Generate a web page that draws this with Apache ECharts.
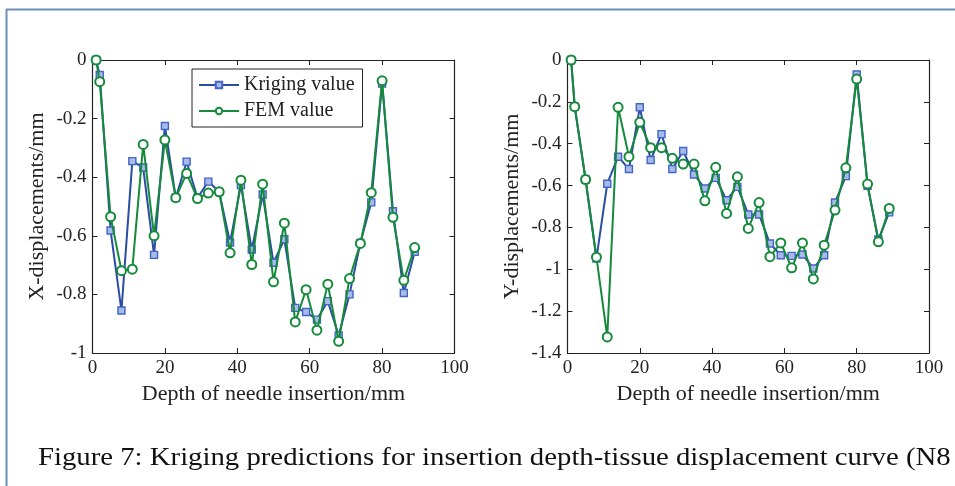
<!DOCTYPE html>
<html><head><meta charset="utf-8">
<script src="https://cdn.jsdelivr.net/npm/echarts@6/dist/echarts.min.js"></script>
<style>html,body{margin:0;padding:0;background:#fff}#c{width:955px;height:486px}</style>
</head><body><div id="c"></div>
<script>
const depth = [1,2,5,8,11,14,17,20,23,26,29,32,35,38,41,44,47,50,53,56,59,62,65,68,71,74,77,80,83,86,89];
const xKriging = [0,-0.051,-0.582,-0.855,-0.345,-0.367,-0.665,-0.225,-0.47,-0.347,-0.47,-0.415,-0.45,-0.623,-0.427,-0.647,-0.459,-0.692,-0.612,-0.846,-0.86,-0.886,-0.823,-0.94,-0.80,-0.624,-0.486,-0.08,-0.516,-0.795,-0.655];
const xFEM = [0,-0.074,-0.535,-0.719,-0.714,-0.288,-0.600,-0.273,-0.47,-0.387,-0.473,-0.454,-0.45,-0.658,-0.41,-0.698,-0.424,-0.757,-0.557,-0.894,-0.784,-0.922,-0.765,-0.96,-0.746,-0.626,-0.453,-0.071,-0.537,-0.752,-0.64];
const yKriging = [0,-0.223,-0.571,-0.949,-0.591,-0.462,-0.521,-0.226,-0.478,-0.354,-0.521,-0.435,-0.547,-0.614,-0.563,-0.67,-0.606,-0.738,-0.738,-0.877,-0.933,-0.936,-0.929,-0.996,-0.933,-0.681,-0.555,-0.069,-0.601,-0.858,-0.728];
const yFEM = [0,-0.223,-0.571,-0.942,-1.323,-0.226,-0.462,-0.298,-0.419,-0.419,-0.47,-0.497,-0.497,-0.673,-0.513,-0.733,-0.558,-0.805,-0.681,-0.94,-0.874,-0.993,-0.874,-1.046,-0.885,-0.717,-0.515,-0.091,-0.593,-0.869,-0.709];
const seriesNames = ['Kriging value','FEM value'];
const xAxisTitle = 'Depth of needle insertion/mm';
const yTitles = ['X-displacements/mm','Y-displacements/mm'];
const caption = 'Figure 7: Kriging predictions for insertion depth-tissue displacement curve (N8';

const FONT = 'Liberation Serif';
const INK = '#222';
const BLUE = '#2a4ca3', BLUE_M = '#4164c6', GREEN = '#158a3b';

function pair(a,b){return a.map((v,i)=>[v,b[i]]);}

const grids = [
  {left:92.5, top:60, width:362, height:293},
  {left:567.5, top:60, width:361.5, height:293}
];
const yRanges = [{min:-1,max:0},{min:-1.4,max:0}];

const xAxes = [], yAxes = [], series = [];
grids.forEach((g,gi)=>{
  const base = {type:'value', gridIndex:gi, min:0, max:100, interval:20,
    axisLine:{show:true,onZero:false,lineStyle:{color:INK,width:1.2}},
    axisTick:{show:true,inside:true,length:5,lineStyle:{color:INK}},
    splitLine:{show:false}};
  xAxes.push(Object.assign({}, base, {position:'bottom',
    name:xAxisTitle, nameLocation:'middle', nameGap:30,
    nameTextStyle:{fontFamily:FONT,fontSize:22,color:INK},
    axisLabel:{fontFamily:FONT,fontSize:19,color:INK,margin:6}}));
  xAxes.push(Object.assign({}, base, {position:'top', axisLabel:{show:false}}));
  const ybase = {type:'value', gridIndex:gi, min:yRanges[gi].min, max:yRanges[gi].max, interval:0.2,
    axisLine:{show:true,onZero:false,lineStyle:{color:INK,width:1.2}},
    axisTick:{show:true,inside:true,length:5,lineStyle:{color:INK}},
    splitLine:{show:false}};
  yAxes.push(Object.assign({}, ybase, {position:'left',
    name:yTitles[gi], nameLocation:'middle', nameGap: gi===0?44:44, nameRotate:90,
    nameTextStyle:{fontFamily:FONT,fontSize:22,color:INK},
    axisLabel:{fontFamily:FONT,fontSize:19,color:INK,margin:6,
      formatter:v=>String(Math.round(v*10)/10)}}));
  yAxes.push(Object.assign({}, ybase, {position:'right', axisLabel:{show:false}}));
});

const dataSets = [[xKriging,xFEM],[yKriging,yFEM]];
dataSets.forEach((ds,gi)=>{
  series.push({type:'line', name:seriesNames[0], xAxisIndex:gi*2, yAxisIndex:gi*2,
    data:pair(depth,ds[0]), symbol:'rect', symbolSize:7, showAllSymbol:true,
    lineStyle:{color:BLUE,width:2},
    itemStyle:{color:'#a8bbe6',borderColor:BLUE_M,borderWidth:1.4}, z:2, animation:false});
  series.push({type:'line', name:seriesNames[1], xAxisIndex:gi*2, yAxisIndex:gi*2,
    data:pair(depth,ds[1]), symbol:'emptyCircle', symbolSize:9, showAllSymbol:true,
    lineStyle:{color:GREEN,width:2},
    itemStyle:{color:GREEN,borderColor:GREEN,borderWidth:1.7}, z:3, animation:false});
});

const chart = echarts.init(document.getElementById('c'), null, {renderer:'canvas'});
chart.setOption({
  backgroundColor:'#fff',
  animation:false,
  grid:grids.map(g=>Object.assign({containLabel:false},g)),
  xAxis:xAxes, yAxis:yAxes, series:series,
  legend:{data:seriesNames, left:192, top:69, orient:'vertical',
    itemWidth:40, itemHeight:8, itemGap:6, padding:[6,8,6,6],
    borderColor:INK, borderWidth:1, backgroundColor:'#fff',
    textStyle:{fontFamily:FONT,fontSize:20,color:INK}},
  graphic:[
    {type:'line', shape:{x1:6,y1:9.5,x2:955,y2:9.5}, style:{stroke:'#6f8fb8',lineWidth:2}},
    {type:'line', shape:{x1:6.5,y1:9,x2:6.5,y2:486}, style:{stroke:'#6f8fb8',lineWidth:2}},
    {type:'text', x:38, y:446, scaleX:1.15, style:{text:caption, font:'25px "Liberation Serif"', fill:'#111'}}
  ]
});
</script></body></html>
